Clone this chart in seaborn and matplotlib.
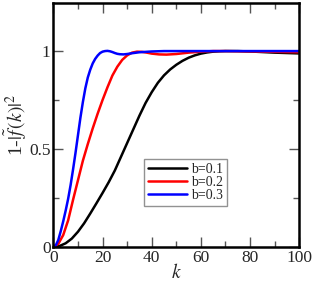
import matplotlib
matplotlib.use("Agg")
import matplotlib.pyplot as plt
import seaborn as sns
import pandas as pd
from matplotlib.ticker import MultipleLocator

k_b1 = [0, 2.5, 5, 7.5, 10, 12.5, 15, 17.5, 20, 22.5, 25, 27.5, 30, 32.5, 35, 37.5, 40, 42.5, 45, 47.5, 50, 52.5, 55, 57.5, 60, 62.5, 65, 67.5, 70, 75, 80, 85, 90, 95, 100]
y_b1 = [0, 0.004, 0.018, 0.042, 0.077, 0.12, 0.17, 0.222, 0.275, 0.33, 0.39, 0.46, 0.53, 0.60, 0.67, 0.735, 0.79, 0.838, 0.876, 0.906, 0.93, 0.95, 0.966, 0.978, 0.987, 0.993, 0.997, 0.999, 1.0, 1.0, 0.998, 0.995, 0.992, 0.99, 0.988]

k_b2 = [0, 2, 4, 6, 8, 10, 12, 14, 16, 18, 20, 22, 24, 26, 28, 30, 32, 34, 36, 38, 40, 43, 46, 50, 55, 60, 65, 70, 80, 90, 100]
y_b2 = [0, 0.015, 0.06, 0.135, 0.24, 0.34, 0.44, 0.525, 0.605, 0.68, 0.75, 0.815, 0.875, 0.92, 0.955, 0.978, 0.992, 0.997, 0.996, 0.992, 0.987, 0.983, 0.982, 0.985, 0.992, 0.997, 1.0, 1.0, 0.998, 0.996, 0.994]

k_b3 = [0, 1, 2, 3, 4, 5, 6, 7, 8, 9, 10, 11, 12, 13, 14, 15, 16, 17, 18, 19, 20, 21, 22, 23, 24, 25, 26, 27, 28.5, 30, 32, 35, 40, 45, 60, 80, 100]
y_b3 = [0, 0.008, 0.035, 0.08, 0.13, 0.185, 0.245, 0.315, 0.395, 0.48, 0.57, 0.66, 0.74, 0.81, 0.865, 0.905, 0.937, 0.96, 0.977, 0.99, 0.997, 1.0, 1.001, 0.999, 0.995, 0.99, 0.986, 0.984, 0.983, 0.985, 0.989, 0.994, 0.998, 1.0, 1.0, 1.0, 1.0]

labels = ["b=0.1", "b=0.2", "b=0.3"]
colors = ["#000000", "#ff0000", "#0000ff"]

df = pd.concat([
    pd.DataFrame({"k": k_b1, "y": y_b1, "b": labels[0]}),
    pd.DataFrame({"k": k_b2, "y": y_b2, "b": labels[1]}),
    pd.DataFrame({"k": k_b3, "y": y_b3, "b": labels[2]}),
])

sns.set_style("ticks")
plt.rcParams["font.family"] = ["Liberation Serif", "DejaVu Serif"]
plt.rcParams["mathtext.fontset"] = "stix"

fig = plt.figure(figsize=(3.14, 2.84), dpi=100)
ax = fig.add_axes([0.170, 0.131, 0.783, 0.858])

sns.lineplot(data=df, x="k", y="y", hue="b", palette=colors, sort=False,
             linewidth=1.8, ax=ax, estimator=None)

ax.set_xlim(0, 100)
ax.set_ylim(0, 1.245)
ax.xaxis.set_major_locator(MultipleLocator(20))
ax.xaxis.set_minor_locator(MultipleLocator(10))
ax.yaxis.set_major_locator(MultipleLocator(0.5))
ax.yaxis.set_minor_locator(MultipleLocator(0.25))
ax.set_yticks([0, 0.5, 1])
ax.set_yticklabels(["0", "0.5", "1"])
ax.tick_params(which="both", direction="in", top=True, right=True, color="#555555", labelsize=12.5, pad=2)
ax.tick_params(which="major", length=7, width=1)
ax.tick_params(which="minor", length=4, width=1)
for s in ax.spines.values():
    s.set_linewidth(1.8)
    s.set_color("black")

ax.set_xlabel(r"$k$", fontsize=14, labelpad=-2)
ax.set_ylabel(r"1-$|\tilde{f}\,(k)|^2$", fontsize=14, labelpad=0)

leg = ax.legend(loc="center", bbox_to_anchor=(0.538, 0.263), frameon=True, fancybox=False,
                fontsize=10, handlelength=2.8, handletextpad=0.3, borderpad=0.3,
                labelspacing=0.0, borderaxespad=0)
leg.get_frame().set_edgecolor("#777777")
leg.get_frame().set_linewidth(1.0)
leg.set_title(None)

fig.savefig("out.png", dpi=100)
